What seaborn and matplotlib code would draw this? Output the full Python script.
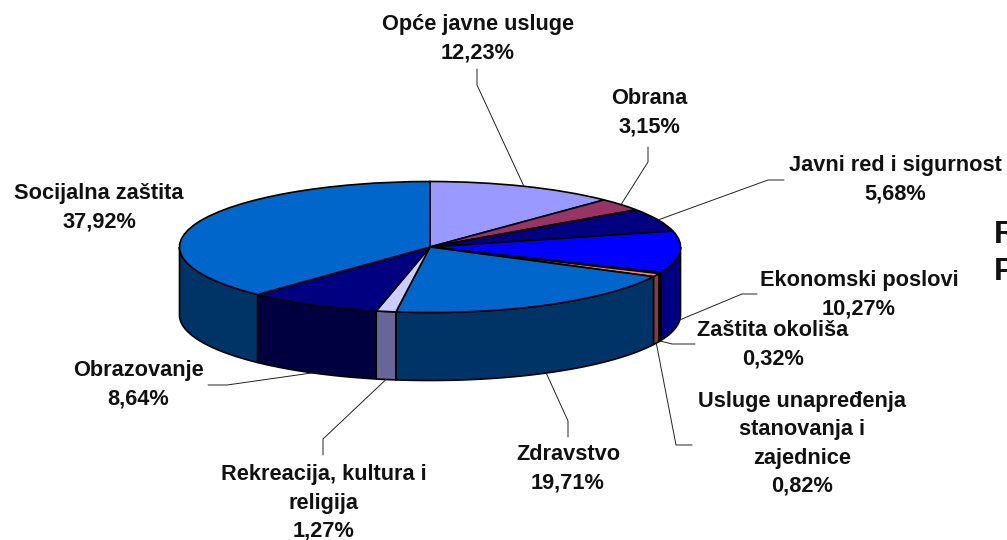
import numpy as np
import seaborn as sns
import matplotlib
matplotlib.use("Agg")
import matplotlib.pyplot as plt

categories = ["Opće javne usluge", "Obrana", "Javni red i sigurnost", "Ekonomski poslovi",
              "Zaštita okoliša", "Usluge unapređenja\nstanovanja i\nzajednice", "Zdravstvo",
              "Rekreacija, kultura i\nreligija", "Obrazovanje", "Socijalna zaštita"]
shares = [12.23, 3.15, 5.68, 10.27, 0.32, 0.82, 19.71, 1.27, 8.64, 37.92]
top_colors = ["#9999FF", "#993366", "#000080", "#0000FF", "#400000",
              "#FF8080", "#0066CC", "#CCCCFF", "#000080", "#0066CC"]
side_colors = ["#4D4D80", "#4D1A33", "#000040", "#000080", "#200000",
               "#804040", "#003366", "#666699", "#000040", "#003366"]

# label centres and leader elbows, in picture pixels
label_pos = [(478, 39), (649, 113), (895, 180), (859, 295), (773, 345),
             (802, 444), (568, 469), (324, 503), (138, 385), (99, 208)]
leaders = [[(477, 85), (477, 69)], [(648, 162), (648, 147)], [(768, 180), (784, 180)],
           [(742, 294), (757, 294)], [(672, 344), (695, 344)], [(676, 445), (692, 445)],
           [(568, 421), (568, 437)], [(323, 439), (323, 455)], [(227, 385), (208, 385)], []]

W, H = 1007, 540
cx, cy, rx, ry = 430, 247, 250.5, 65.5
depth = 68 / ry


def to_data(p):
    return (p[0] - cx) / rx, (cy - p[1]) / ry


sns.set_theme(style="white")
plt.rcParams['font.family'] = ['Liberation Sans', 'DejaVu Sans']

fig = plt.figure(figsize=(W / 100, H / 100), dpi=100)
ax = fig.add_axes([0, 0, 1, 1])

edges = np.cumsum([0] + shares) / np.sum(shares) * 360

# side wall, only the part of each slice facing the viewer
for i in range(len(shares)):
    a0, a1 = max(edges[i], 90), min(edges[i + 1], 270)
    if a1 <= a0:
        continue
    t = np.radians(np.linspace(a0, a1, 60))
    x, y = np.sin(t), np.cos(t)
    ax.fill(np.r_[x, x[::-1]], np.r_[y, y[::-1] - depth],
            facecolor=side_colors[i], edgecolor="black", linewidth=1.2, zorder=1)

ax.pie(shares, colors=sns.color_palette(top_colors), startangle=90, counterclock=False,
       normalize=True, wedgeprops={"edgecolor": "black", "linewidth": 1.2, "zorder": 2})
ax.set_aspect("auto")
ax.set_xlim(to_data((0, 0))[0], to_data((W, 0))[0])
ax.set_ylim(to_data((0, H))[1], to_data((0, 0))[1])
ax.set_axis_off()

for i, name in enumerate(categories):
    mid = np.radians((edges[i] + edges[i + 1]) / 2)
    x0, y0 = np.sin(mid), np.cos(mid)
    if y0 < 0:
        y0 -= depth
    if leaders[i]:
        pts = [to_data(p) for p in leaders[i]]
        ax.plot([x0] + [p[0] for p in pts], [y0] + [p[1] for p in pts],
                color="#222222", linewidth=0.7, zorder=3)
    lx, ly = to_data(label_pos[i])
    ax.text(lx, ly, f"{name}\n{shares[i]:.2f}%".replace(".", ","), ha="center", va="center",
            ma="center", fontsize=15.7, fontweight="bold", color="#111111",
            linespacing=1.44, zorder=4)

# slide text cut off by the right edge of the picture
for letter, py in [("R", 235), ("P", 272)]:
    lx, ly = to_data((994, py))
    ax.text(lx, ly, letter, ha="left", va="center", fontsize=23, fontweight="bold",
            color="#111111", clip_on=True)

fig.savefig("out.png", dpi=100)
plt.close(fig)
